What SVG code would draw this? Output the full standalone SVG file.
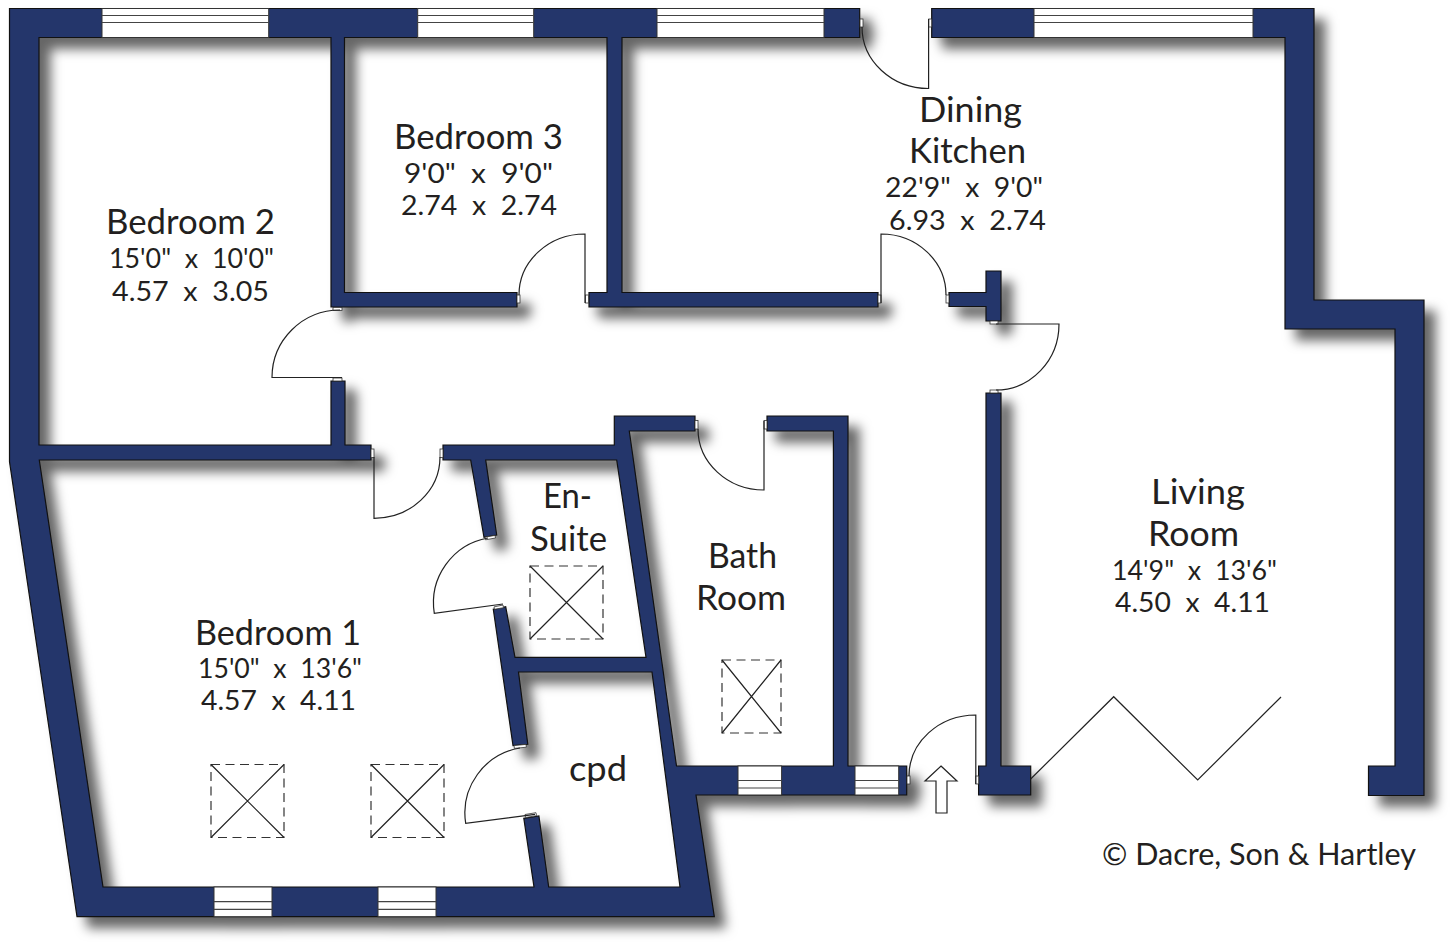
<svg xmlns="http://www.w3.org/2000/svg" width="1451" height="945" viewBox="0 0 1451 945">
<style>
text{font-family:Lato,"Noto Sans","Liberation Sans",sans-serif;fill:#231f20;white-space:pre}
.n{font-size:34px}
.d{font-size:27px}
.w{fill:#24366b;stroke:#111;stroke-width:1.2;stroke-linejoin:miter}
.g{fill:#fff;stroke:#333;stroke-width:1}
.l{fill:none;stroke:#444;stroke-width:1.2}
.h{fill:#fff;stroke:#333;stroke-width:.8}
.o{fill:none;stroke:#222;stroke-width:1.2}
.s{fill:none;stroke:#333;stroke-width:1.2;stroke-dasharray:9 5.5}
.x{fill:none;stroke:#222;stroke-width:1.2}
</style>
<defs>
<filter id="sh" x="-5%" y="-5%" width="112%" height="112%" color-interpolation-filters="sRGB">
<feDropShadow dx="11" dy="11" stdDeviation="6" flood-color="#000" flood-opacity=".6"/>
</filter>
<g id="sky"><rect class="s" width="73" height="73"/><path class="x" d="M0 0L73 73M73 0L0 73"/></g>
</defs>
<rect width="1451" height="945" fill="#fff"/>
<g id="structure" filter="url(#sh)">
<g id="walls">
<path class="w" d="M9.5 8.5H859.7V37.5H622V292.5H878V307H589V292.5H607V37.5H344.5V292.5H517V307H331V37.5H39V445H331V381H345V445H371V460H39.3L103 887H534L523.8 818.3L538.9 816L548.7 887H680L652 672H518.5L527.8 744.3L513 745.7L493.3 609.3L505.7 606.7L515 657.3H646L616.7 460H485.7L496.7 535L484 537.3L470.7 460H443V445H614.3V416H695V431H629.3L676.5 766H833.4V431H767V416H848V766H906.7V795H696L714.3 916.7H77L9.5 461.7Z"/>
<path class="w" d="M931.7 8.5H1314V300H1424V795.5H1368.5V766H1395V329H1285V37.5H931.7Z"/>
<path class="w" d="M949 292.5H986V271H1001V321H986V306.5H949Z"/>
<path class="w" d="M986 393H1001V766H1030.7V795H978.6V766H986Z"/>
</g>
<g id="windows">
<g id="window-1"><rect class="g" x="102" y="8.5" width="166.7" height="29"/><path class="l" d="M102 15.5H268.7M102 22.5H268.7"/></g>
<g id="window-2"><rect class="g" x="417.7" y="8.5" width="116" height="29"/><path class="l" d="M417.7 15.5H533.7M417.7 22.5H533.7"/></g>
<g id="window-3"><rect class="g" x="657" y="8.5" width="167" height="29"/><path class="l" d="M657 15.5H824M657 22.5H824"/></g>
<g id="window-4"><rect class="g" x="1034" y="8.5" width="219" height="29"/><path class="l" d="M1034 15.5H1253M1034 22.5H1253"/></g>
<g id="window-5"><rect class="g" x="738" y="766" width="43.6" height="29"/><path class="l" d="M738 780.5H781.6M738 788H781.6"/></g>
<g id="window-6"><rect class="g" x="855" y="766" width="43.7" height="29"/><path class="l" d="M855 780.5H898.7M855 788H898.7"/></g>
<g id="window-7"><rect class="g" x="214" y="887" width="58" height="29.7"/><path class="l" d="M214 901.7H272M214 909.3H272"/></g>
<g id="window-8"><rect class="g" x="378" y="887" width="58" height="29.7"/><path class="l" d="M378 901.7H436M378 909.3H436"/></g>
</g>
<g id="jambs">
<rect class="h" x="860" y="19" width="3" height="8"/><rect class="h" x="928.7" y="19" width="3" height="8"/>
<rect class="h" x="517" y="295" width="3" height="8"/><rect class="h" x="585.5" y="295" width="3" height="8"/>
<rect class="h" x="878" y="295" width="3" height="8"/><rect class="h" x="946" y="295" width="3" height="8"/>
<rect class="h" x="990" y="321" width="8" height="3"/><rect class="h" x="990" y="390" width="8" height="3"/>
<rect class="h" x="333" y="307.5" width="9" height="3"/><rect class="h" x="333" y="378" width="9" height="3"/>
<rect class="h" x="371" y="449" width="3" height="8.5"/><rect class="h" x="440" y="449" width="3" height="8.5"/>
<rect class="h" x="695" y="420.5" width="3" height="8.5"/><rect class="h" x="764" y="420.5" width="3" height="8.5"/>
<rect class="h" x="907" y="776" width="3" height="8"/><rect class="h" x="975.7" y="776" width="3" height="8"/>
<polygon class="h" points="485,537.2 495,535.4 495.5,538 485.5,539.8"/>
<polygon class="h" points="494,606.9 503,605 503.5,607.7 494.4,609.3"/>
<polygon class="h" points="514,745.6 526,744.4 526.4,747.2 514.4,748.4"/>
<polygon class="h" points="525,814.5 536,812.7 536.5,815.7 525.5,817.5"/>
</g>
</g>
<g id="doors">
<path id="door-kitchen-entry" class="o" d="M862 27A66.6 61.5 0 0 0 928.6 88.5V19"/>
<path id="door-bedroom-3" class="o" d="M585 303V234A66 61 0 0 0 519 295"/>
<path id="door-kitchen" class="o" d="M881 303V234A65 61 0 0 1 946 295"/>
<path id="door-living" class="o" d="M996 324H1059A63 66 0 0 1 996 390"/>
<path id="door-bedroom-2" class="o" d="M342 377.5H272A68 67.5 0 0 1 340 310"/>
<path id="door-bedroom-1" class="o" d="M374 457V518.3A66 61.3 0 0 0 440 457"/>
<path id="door-bath" class="o" d="M698 429A66 61 0 0 0 764 490V421"/>
<path id="door-en-suite" class="o" d="M503 604L434.3 613.3A66 66 0 0 1 488 538"/>
<path id="door-cpd" class="o" d="M535 814.3L465.7 823.3A66 66 0 0 1 520 748"/>
<path id="door-entrance" class="o" d="M975.8 784V715A67 61 0 0 0 909 776"/>
<path id="door-folding" class="o" d="M1030.7 779L1113.7 696.7L1197.7 780L1281 697"/>
<path id="entrance-arrow" class="o" style="fill:#fff" d="M941 766L957 781H947V813H936V781H925Z"/>
</g>
<g id="rooflights">
<use href="#sky" x="211" y="764.5"/>
<use href="#sky" x="371" y="764.5"/>
<use href="#sky" x="530" y="566"/>
<g id="sky-bath"><rect class="s" x="722" y="660" width="59" height="73"/><path class="x" d="M722 660L781 733M781 660L722 733"/></g>
</g>
<g id="labels">
<g id="bedroom-2"><text class="n" x="106" y="234" textLength="169" lengthAdjust="spacingAndGlyphs">Bedroom 2</text><text class="d" x="109" y="268" textLength="165" lengthAdjust="spacingAndGlyphs">15'0"  x  10'0"</text><text class="d" x="112" y="301" textLength="157" lengthAdjust="spacingAndGlyphs">4.57  x  3.05</text></g>
<g id="bedroom-3"><text class="n" x="394" y="149" textLength="169" lengthAdjust="spacingAndGlyphs">Bedroom 3</text><text class="d" x="404" y="183" textLength="149" lengthAdjust="spacingAndGlyphs">9'0"  x  9'0"</text><text class="d" x="401" y="215" textLength="156" lengthAdjust="spacingAndGlyphs">2.74  x  2.74</text></g>
<g id="dining-kitchen"><text class="n" x="919" y="122" textLength="103" lengthAdjust="spacingAndGlyphs">Dining</text><text class="n" x="909" y="163" textLength="117" lengthAdjust="spacingAndGlyphs">Kitchen</text><text class="d" x="885" y="197" textLength="158" lengthAdjust="spacingAndGlyphs">22'9"  x  9'0"</text><text class="d" x="889" y="230" textLength="157" lengthAdjust="spacingAndGlyphs">6.93  x  2.74</text></g>
<g id="en-suite"><text class="n" x="543" y="508" textLength="49" lengthAdjust="spacingAndGlyphs">En-</text><text class="n" x="530" y="551" textLength="77" lengthAdjust="spacingAndGlyphs">Suite</text></g>
<g id="bath-room"><text class="n" x="708" y="568" textLength="69" lengthAdjust="spacingAndGlyphs">Bath</text><text class="n" x="696" y="610" textLength="90" lengthAdjust="spacingAndGlyphs">Room</text></g>
<g id="cpd"><text class="n" x="569" y="781" textLength="58" lengthAdjust="spacingAndGlyphs">cpd</text></g>
<g id="bedroom-1"><text class="n" x="195" y="645" textLength="166" lengthAdjust="spacingAndGlyphs">Bedroom 1</text><text class="d" x="198" y="678" textLength="164" lengthAdjust="spacingAndGlyphs">15'0"  x  13'6"</text><text class="d" x="201" y="710" textLength="155" lengthAdjust="spacingAndGlyphs">4.57  x  4.11</text></g>
<g id="living-room"><text class="n" x="1151" y="504" textLength="94" lengthAdjust="spacingAndGlyphs">Living</text><text class="n" x="1148" y="546" textLength="91" lengthAdjust="spacingAndGlyphs">Room</text><text class="d" x="1112" y="580" textLength="165" lengthAdjust="spacingAndGlyphs">14'9"  x  13'6"</text><text class="d" x="1115" y="612" textLength="155" lengthAdjust="spacingAndGlyphs">4.50  x  4.11</text></g>
<text id="copyright" style="font-size:30.5px" x="1102" y="865" textLength="314" lengthAdjust="spacingAndGlyphs">© Dacre, Son &amp; Hartley</text>
</g>
</svg>
